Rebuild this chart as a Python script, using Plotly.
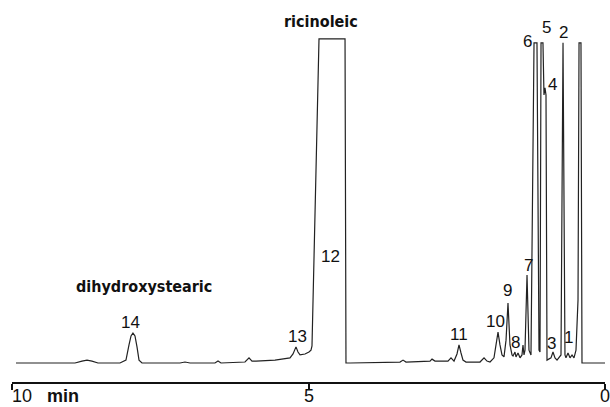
import plotly.graph_objects as go

# Retention time (min) and detector response (% of recorder full scale)
time_min = [9.933, 8.938, 8.820, 8.735, 8.651, 8.550, 8.179, 8.078, 8.027, 7.993, 7.960, 7.926,
            7.892, 7.858, 7.808, 7.167, 7.083, 6.998, 6.577, 6.526, 6.476, 6.071, 6.003, 5.953,
            5.885, 5.565, 5.312, 5.261, 5.211, 5.177, 5.143, 5.059, 4.992, 4.958, 4.941, 4.823,
            4.384, 4.368, 4.300, 3.457, 3.406, 3.356, 2.951, 2.917, 2.867, 2.648, 2.597, 2.546,
            2.496, 2.462, 2.428, 2.395, 2.344, 2.108, 2.040, 1.990, 1.939, 1.872, 1.838, 1.804,
            1.771, 1.737, 1.703, 1.669, 1.636, 1.602, 1.568, 1.551, 1.518, 1.501, 1.467, 1.433,
            1.400, 1.383, 1.366, 1.349, 1.315, 1.282, 1.248, 1.197, 1.147, 1.113, 1.096, 1.079,
            1.046, 1.029, 1.012, 0.995, 0.978, 0.911, 0.877, 0.843, 0.809, 0.742, 0.708, 0.675,
            0.658, 0.624, 0.590, 0.556, 0.523, 0.489, 0.455, 0.438, 0.405, 0.388, 0.000]
response = [0, 0, 0.6, 0.9, 0.6, 0, 0, 0.9, 5.6, 8.4, 9.3, 8.4,
            5.0, 0.9, 0, 0, 0.3, 0, 0, 0.6, 0, 0.3, 1.6, 0.6,
            0.6, 0.9, 1.6, 2.8, 5.0, 3.4, 2.5, 2.8, 3.4, 4.0, 5.3, 100.6,
            100.6, 0, 0, 0.3, 0.9, 0.3, 0.6, 1.2, 0.6, 0.6, 1.6, 0.6,
            2.8, 5.6, 3.1, 0.9, 0.3, 0.3, 1.6, 0.6, 0.3, 1.6, 5.6, 9.6,
            5.6, 2.5, 1.9, 7.1, 18.6, 5.6, 2.5, 2.2, 3.4, 1.9, 3.1, 1.6,
            2.5, 5.6, 2.5, 4.0, 27.3, 4.0, 2.5, 99.4, 99.4, 4.0, 3.4, 99.4,
            99.4, 83.2, 85.4, 83.2, 0.9, 1.6, 3.4, 1.6, 0.9, 2.5, 99.4, 2.5,
            1.6, 3.1, 1.6, 2.5, 1.6, 4.0, 19.6, 99.4, 99.4, 0, 0]

# Peak labels: text, retention time, label height
peak_labels = ["14", "13", "12", "11", "10", "9", "8", "7", "6", "5", "4", "3", "2", "1"]
peak_label_t = [8.010, 5.194, 4.621, 2.462, 1.855, 1.636, 1.501, 1.282, 1.315, 0.995, 0.877, 0.894, 0.708, 0.624]
peak_label_s = [12.7, 8.1, 33.2, 8.7, 13.0, 22.4, 6.5, 30.4, 99.7, 104.3, 86.6, 5.9, 102.5, 7.8]

# Compound names
compound_names = ["ricinoleic", "dihydroxystearic"]
compound_t = [4.789, 7.782]
compound_s = [105.9, 23.6]

# Axis ticks
tick_vals = [10, 5, 0]
tick_texts = ["10&nbsp;&nbsp;&nbsp;<b>min</b>", "5", "0"]

fig = go.Figure()
fig.add_trace(go.Scatter(x=time_min, y=response, mode="lines",
                         line=dict(color="#222222", width=1.2), hoverinfo="skip",
                         showlegend=False))

for txt, t, s in zip(peak_labels, peak_label_t, peak_label_s):
    fig.add_annotation(x=t, y=s, text=txt, showarrow=False,
                       font=dict(family="Liberation Sans, Arial, sans-serif", size=17, color="#111111"),
                       xanchor="center", yanchor="middle")

for txt, t, s in zip(compound_names, compound_t, compound_s):
    fig.add_annotation(x=t, y=s, text="<b>" + txt + "</b>", showarrow=False,
                       font=dict(family="DejaVu Sans Condensed, DejaVu Sans, sans-serif", size=16, color="#111111"),
                       xanchor="center", yanchor="middle")

for v, txt in zip(tick_vals, tick_texts):
    if v == 10:
        fig.add_annotation(x=-0.004, y=-0.037, xref="paper", yref="paper",
                           text=txt, showarrow=False,
                           font=dict(family="Liberation Sans, Arial, sans-serif", size=18, color="#111111"),
                           xanchor="left", yanchor="middle")
    else:
        fig.add_annotation(x=v, y=-0.037, xref="x", yref="paper",
                           text=txt, showarrow=False,
                           font=dict(family="Liberation Sans, Arial, sans-serif", size=18, color="#111111"),
                           xanchor="center", yanchor="middle")

fig.update_layout(
    width=610, height=407,
    margin=dict(l=12, r=5, t=0, b=25),
    paper_bgcolor="white", plot_bgcolor="white",
    xaxis=dict(range=[10, 0], tickvals=tick_vals, showticklabels=False,
               ticks="outside", ticklen=6, tickwidth=1.5, tickcolor="#111111",
               showline=True, linecolor="#111111", linewidth=1.6,
               showgrid=False, zeroline=False),
    yaxis=dict(range=[-5.9, 112.7], visible=False, showgrid=False, zeroline=False),
)

fig.write_html("out.html")
